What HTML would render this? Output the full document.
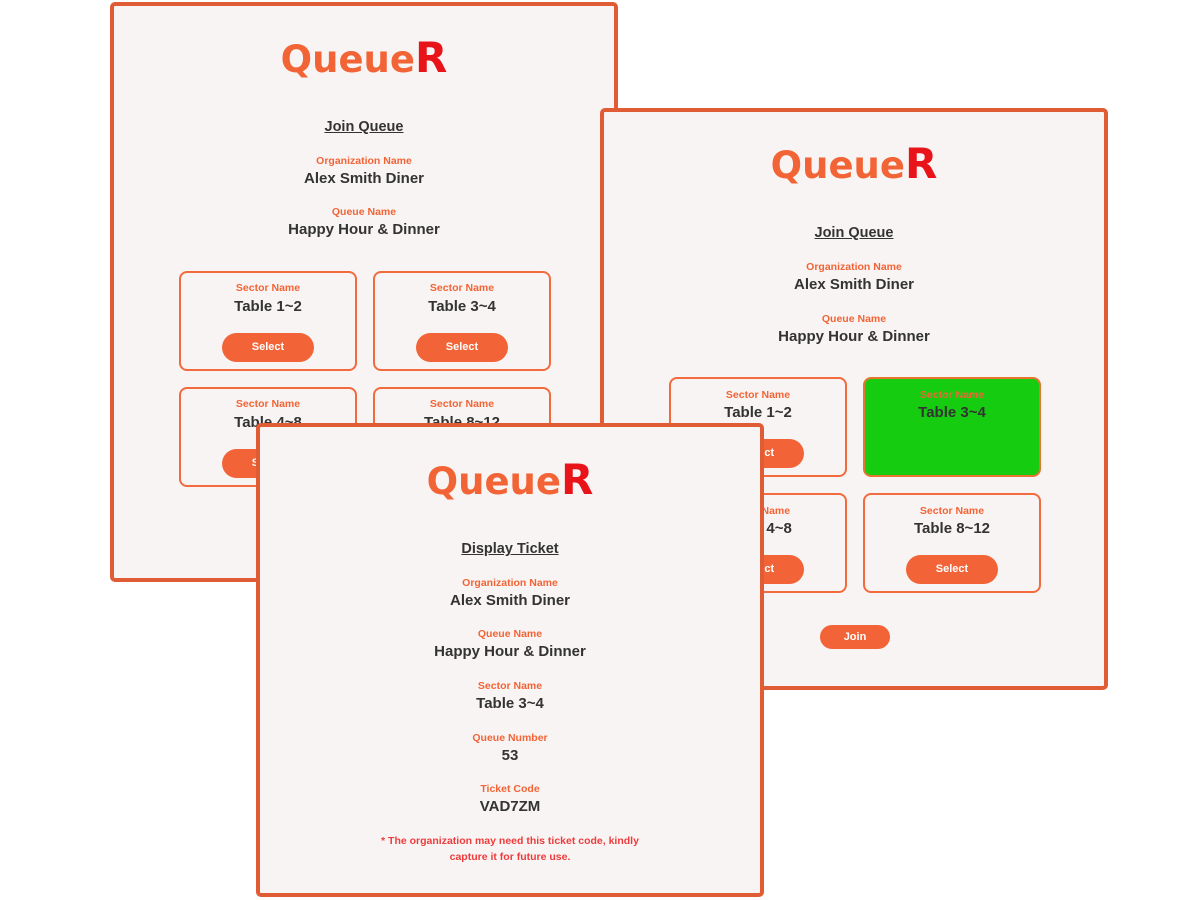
<!DOCTYPE html>
<html><head><meta charset="utf-8"><style>
*{margin:0;padding:0;box-sizing:border-box}
body{width:1200px;height:900px;background:#fff;position:relative;overflow:hidden;font-family:"Liberation Sans",sans-serif}
.f{position:absolute;background:#f8f4f3;border:4px solid #e05c34;border-radius:5px;overflow:hidden}
.t{position:absolute;width:400px;text-align:center;font-weight:bold;white-space:nowrap}
.l{font-size:10.5px;color:#f26436;height:14px;line-height:14px;margin-top:1px}
.v{font-size:15px;color:#333;height:20px;line-height:20px;margin-top:1px}
.h{font-size:14.5px;color:#333;text-decoration:underline;height:20px;line-height:20px;margin-top:1px}
.logo{position:absolute;width:400px;text-align:center;font-size:37px;font-weight:bold;color:#f26436;height:44px;line-height:44px;letter-spacing:0px;font-family:"DejaVu Sans",sans-serif}
.logo span{color:#e8141a;font-size:42px}
.box{position:absolute;width:178px;height:100px;border:2px solid #f26a3e;border-radius:8px;background:#f8f4f3}
.btn{position:absolute;background:#f26438;color:#fff;font-weight:bold;font-size:11px;text-align:center;border-radius:16px}
.n{position:absolute;width:400px;text-align:center;font-size:10.5px;font-weight:bold;color:#ee3b3b;line-height:16px;margin-top:1px}
</style></head><body>

<!-- Frame A -->
<div class="f" style="left:110px;top:2px;width:508px;height:580px"></div>
<div class="logo" style="left:164px;top:36px">Queue<span>R</span></div>
<div class="t h" style="left:164px;top:116px">Join Queue</div>
<div class="t l" style="left:164px;top:153px">Organization Name</div>
<div class="t v" style="left:164px;top:168px">Alex Smith Diner</div>
<div class="t l" style="left:164px;top:204px">Queue Name</div>
<div class="t v" style="left:164px;top:219px">Happy Hour &amp; Dinner</div>
<div class="box" style="left:179px;top:271px"></div>
<div class="t l" style="left:68px;top:280px">Sector Name</div>
<div class="t v" style="left:68px;top:296px">Table 1~2</div>
<div class="btn" style="left:222px;top:333px;width:92px;height:29px;line-height:29px">Select</div>
<div class="box" style="left:373px;top:271px"></div>
<div class="t l" style="left:262px;top:280px">Sector Name</div>
<div class="t v" style="left:262px;top:296px">Table 3~4</div>
<div class="btn" style="left:416px;top:333px;width:92px;height:29px;line-height:29px">Select</div>
<div class="box" style="left:179px;top:387px"></div>
<div class="t l" style="left:68px;top:396px">Sector Name</div>
<div class="t v" style="left:68px;top:412px">Table 4~8</div>
<div class="btn" style="left:222px;top:449px;width:92px;height:29px;line-height:29px">Select</div>
<div class="box" style="left:373px;top:387px"></div>
<div class="t l" style="left:262px;top:396px">Sector Name</div>
<div class="t v" style="left:262px;top:412px">Table 8~12</div>

<!-- Frame B -->
<div class="f" style="left:600px;top:108px;width:508px;height:582px"></div>
<div class="logo" style="left:654px;top:142px">Queue<span>R</span></div>
<div class="t h" style="left:654px;top:222px">Join Queue</div>
<div class="t l" style="left:654px;top:259px">Organization Name</div>
<div class="t v" style="left:654px;top:274px">Alex Smith Diner</div>
<div class="t l" style="left:654px;top:311px">Queue Name</div>
<div class="t v" style="left:654px;top:326px">Happy Hour &amp; Dinner</div>
<div class="box" style="left:669px;top:377px"></div>
<div class="t l" style="left:558px;top:387px">Sector Name</div>
<div class="t v" style="left:558px;top:402px">Table 1~2</div>
<div class="btn" style="left:712px;top:439px;width:92px;height:29px;line-height:29px">Select</div>
<div class="box" style="left:863px;top:377px;background:#16cc10;border-color:#e8742e"></div>
<div class="t l" style="left:752px;top:387px">Sector Name</div>
<div class="t v" style="left:752px;top:402px">Table 3~4</div>
<div class="box" style="left:669px;top:493px"></div>
<div class="t l" style="left:558px;top:503px">Sector Name</div>
<div class="t v" style="left:558px;top:518px">Table 4~8</div>
<div class="btn" style="left:712px;top:555px;width:92px;height:29px;line-height:29px">Select</div>
<div class="box" style="left:863px;top:493px"></div>
<div class="t l" style="left:752px;top:503px">Sector Name</div>
<div class="t v" style="left:752px;top:518px">Table 8~12</div>
<div class="btn" style="left:906px;top:555px;width:92px;height:29px;line-height:29px">Select</div>
<div class="btn" style="left:820px;top:625px;width:70px;height:24px;line-height:24px">Join</div>

<!-- Frame C -->
<div class="f" style="left:256px;top:423px;width:508px;height:474px"></div>
<div class="logo" style="left:310px;top:458px">Queue<span>R</span></div>
<div class="t h" style="left:310px;top:538px">Display Ticket</div>
<div class="t l" style="left:310px;top:575px">Organization Name</div>
<div class="t v" style="left:310px;top:590px">Alex Smith Diner</div>
<div class="t l" style="left:310px;top:626px">Queue Name</div>
<div class="t v" style="left:310px;top:641px">Happy Hour &amp; Dinner</div>
<div class="t l" style="left:310px;top:678px">Sector Name</div>
<div class="t v" style="left:310px;top:693px">Table 3~4</div>
<div class="t l" style="left:310px;top:730px">Queue Number</div>
<div class="t v" style="left:310px;top:745px">53</div>
<div class="t l" style="left:310px;top:781px">Ticket Code</div>
<div class="t v" style="left:310px;top:796px">VAD7ZM</div>
<div class="n" style="left:310px;top:832px">* The organization may need this ticket code, kindly<br>capture it for future use.</div>
</body></html>
